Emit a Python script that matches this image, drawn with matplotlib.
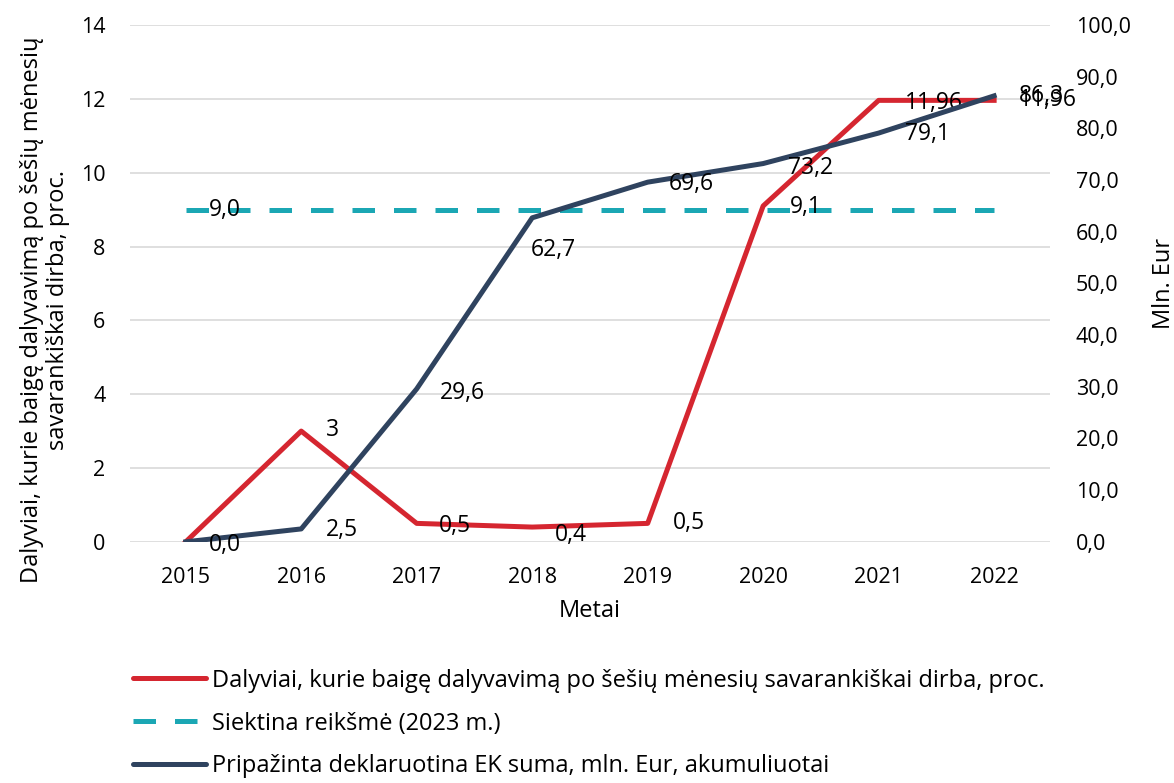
import matplotlib
matplotlib.use('Agg')
import matplotlib.pyplot as plt
from matplotlib.lines import Line2D

plt.rcParams['font.family'] = ['Open Sans', 'DejaVu Sans']

years = ['2015', '2016', '2017', '2018', '2019', '2020', '2021', '2022']
share_pct = [0, 3, 0.5, 0.4, 0.5, 9.1, 11.96, 11.96]
share_labels = ['', '3', '0,5', '0,4', '0,5', '9,1', '11,96', '11,96']
target_pct = [9.0] * 8
target_labels = ['9,0', '', '', '', '', '', '', '']
amount_mln = [0.0, 2.5, 29.6, 62.7, 69.6, 73.2, 79.1, 86.3]
amount_labels = ['0,0', '2,5', '29,6', '62,7', '69,6', '73,2', '79,1', '86,3']

red = '#D52630'
navy = '#2F435F'
teal = '#1BA7B4'
dash = (0, (4.5, 3.8))

fig = plt.figure(figsize=(11.74, 7.83), dpi=100)
ax = fig.add_axes([0.111, 0.308, 0.783, 0.66])
ax2 = ax.twinx()

x = list(range(len(years)))
ax.plot(x, share_pct, color=red, lw=3.6, zorder=3)
ax.plot(x, target_pct, color=teal, lw=3.6, ls=dash, zorder=3)
ax2.plot(x, amount_mln, color=navy, lw=3.6, zorder=4)

ax.set_ylim(0, 14)
ax.set_yticks(range(0, 15, 2))
ax2.set_ylim(0, 100)
ax2.set_yticks(range(0, 101, 10))
ax2.set_yticklabels([f'{v},0' for v in range(0, 101, 10)])
ax.set_xlim(-0.48, 7.48)
ax.set_xticks(x)
ax.set_xticklabels(years)
ax.grid(axis='y', color='#d9d9d9', lw=1.2)
ax.set_axisbelow(True)
for a in (ax, ax2):
    for s in a.spines.values():
        s.set_visible(False)
    a.tick_params(length=0, labelsize=15.5)
ax.tick_params(axis='y', pad=18)
ax.tick_params(axis='x', pad=18)
ax2.tick_params(axis='y', pad=19)

ax.set_xlabel('Metai', fontsize=17, labelpad=8)
ax.set_ylabel('Dalyviai, kurie baigę dalyvavimą po šešių mėnesių\nsavarankiškai dirba, proc.',
              fontsize=17, linespacing=1.1)
ax.yaxis.set_label_coords(-0.066, 0.449)
ax2.set_ylabel('Mln. Eur', fontsize=17, rotation=90, labelpad=15)

# data labels, offsets in points
fs = 16.5
share_off = [(0, 0), (18, 1), (16, -2), (16, -6), (18, 0), (19, -1), (19, -2), (18, 0)]
for i, (v, t) in enumerate(zip(share_pct, share_labels)):
    if t:
        ax.annotate(t, (i, v), xytext=share_off[i], textcoords='offset points',
                    fontsize=fs, va='center', ha='left', zorder=6)
for i, (v, t) in enumerate(zip(target_pct, target_labels)):
    if t:
        ax.annotate(t, (i, v), xytext=(17, 0), textcoords='offset points',
                    fontsize=fs, va='center', ha='left', zorder=6)
amount_off = [(17, -2), (18, -1), (17, -3), (-1, -23), (15, -1), (18, -3), (19, -1), (18, 0)]
for i, (v, t) in enumerate(zip(amount_mln, amount_labels)):
    ax2.annotate(t, (i, v), xytext=amount_off[i], textcoords='offset points',
                 fontsize=fs, va='center', ha='left', zorder=6)

handles = [Line2D([0], [0], color=red, lw=3.6, solid_capstyle='round'),
           Line2D([0], [0], color=teal, lw=3.6, ls=dash),
           Line2D([0], [0], color=navy, lw=3.6, solid_capstyle='round')]
names = ['Dalyviai, kurie baigę dalyvavimą po šešių mėnesių savarankiškai dirba, proc.',
         'Siektina reikšmė (2023 m.)',
         'Pripažinta deklaruotina EK suma, mln. Eur, akumuliuotai']
fig.legend(handles, names, loc='upper left', bbox_to_anchor=(0.113, 0.146),
           frameon=False, fontsize=17, handlelength=3.1, handletextpad=0.25,
           labelspacing=0.8, borderaxespad=0, borderpad=0)

fig.savefig('out.png', dpi=100, facecolor='white')
